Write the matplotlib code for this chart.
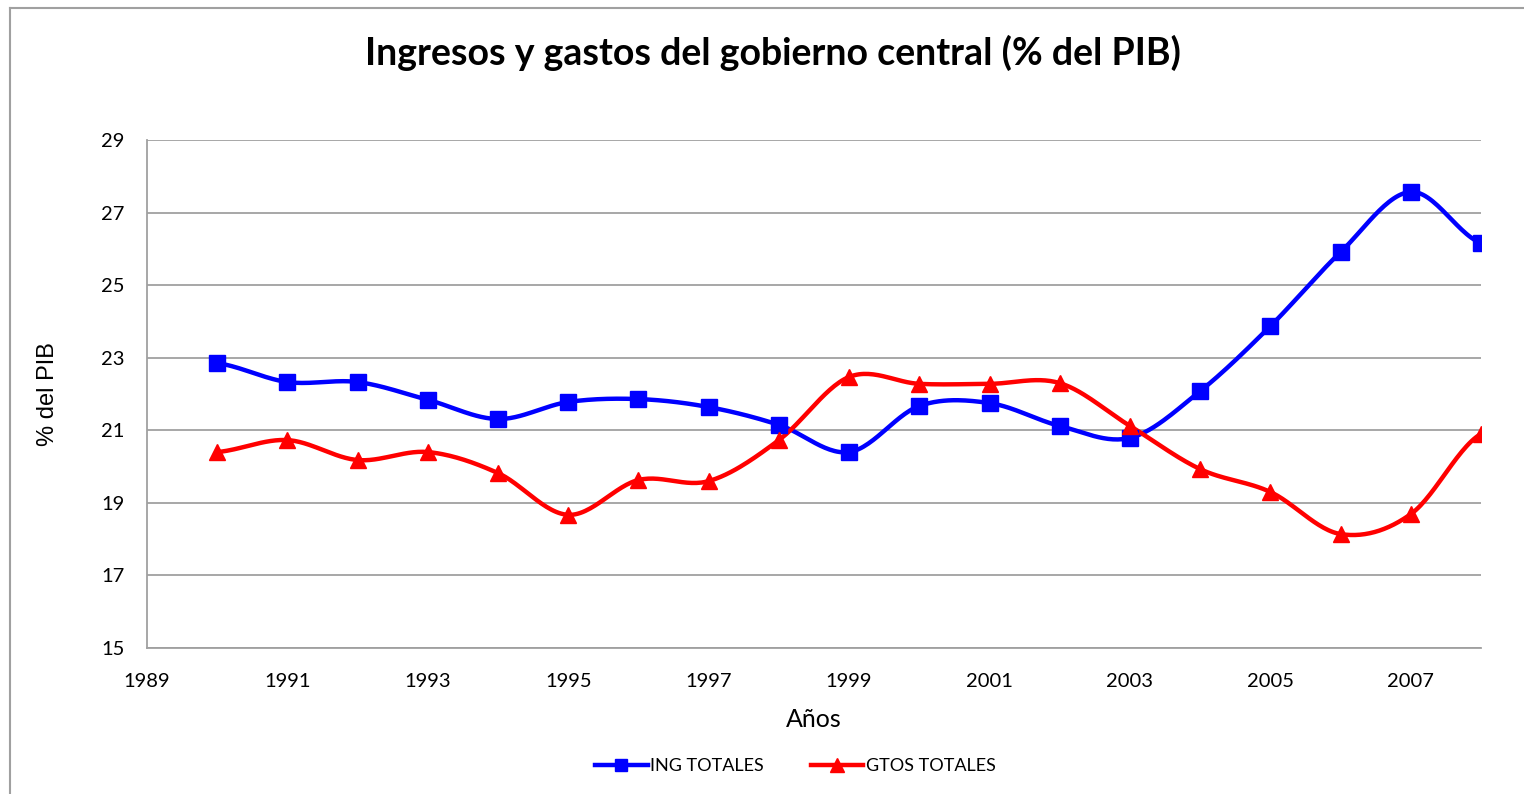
import numpy as np
import matplotlib
matplotlib.use('Agg')
import matplotlib.pyplot as plt
from matplotlib.lines import Line2D

plt.rcParams['font.family'] = ['Lato', 'DejaVu Sans']

# datos (% del PIB)
years = [1990, 1991, 1992, 1993, 1994, 1995, 1996, 1997, 1998, 1999,
         2000, 2001, 2002, 2003, 2004, 2005, 2006, 2007, 2008]
ing_totales = [22.85, 22.33, 22.33, 21.84, 21.31, 21.78, 21.86, 21.64, 21.15, 20.40,
               21.67, 21.75, 21.12, 20.79, 22.08, 23.87, 25.91, 27.57, 26.16]
gtos_totales = [20.40, 20.73, 20.18, 20.40, 19.82, 18.67, 19.63, 19.60, 20.73, 22.47,
                22.28, 22.28, 22.30, 21.12, 19.93, 19.30, 18.14, 18.69, 20.90]

x_ticks = list(range(1989, 2008, 2))
y_ticks = list(range(15, 30, 2))


def smooth(x, y, n=30):
    # curva tipo Catmull-Rom (similar al suavizado de Excel)
    x = np.asarray(x, float)
    y = np.asarray(y, float)
    px = np.concatenate([[2 * x[0] - x[1]], x, [2 * x[-1] - x[-2]]])
    py = np.concatenate([[y[0]], y, [y[-1]]])
    xs, ys = [], []
    t = np.linspace(0, 1, n)
    for i in range(1, len(px) - 2):
        p0, p1, p2, p3 = (np.array([px[j], py[j]]) for j in range(i - 1, i + 3))
        c1 = p1 + (p2 - p0) / 6
        c2 = p2 - (p3 - p1) / 6
        b = ((1 - t) ** 3)[:, None] * p1 + (3 * (1 - t) ** 2 * t)[:, None] * c1 \
            + (3 * (1 - t) * t ** 2)[:, None] * c2 + (t ** 3)[:, None] * p2
        xs.extend(b[:, 0])
        ys.extend(b[:, 1])
    return np.array(xs), np.array(ys)


fig = plt.figure(figsize=(15.24, 7.94), dpi=100)
ax = fig.add_axes([147 / 1524, 1 - 648 / 794, (1481 - 147) / 1524, (648 - 140) / 794])

sx, sy = smooth(years, ing_totales)
ax.plot(sx, sy, color='#0000FF', lw=3.2, solid_capstyle='round', zorder=3)
ax.plot(years, ing_totales, ls='none', marker='s', ms=11, color='#0000FF', zorder=4)

sx, sy = smooth(years, gtos_totales)
ax.plot(sx, sy, color='#FF0000', lw=3.2, solid_capstyle='round', zorder=3)
ax.plot(years, gtos_totales, ls='none', marker='^', ms=12, color='#FF0000', zorder=4)

ax.set_xlim(1989, 2008)
ax.set_ylim(15, 29)
ax.set_xticks(x_ticks)
ax.set_yticks(y_ticks)
ax.tick_params(length=0, labelsize=14.5, colors='black')
ax.tick_params(axis='x', pad=18)
ax.tick_params(axis='y', pad=16)
ax.grid(axis='y', color='#A0A0A0', lw=1.3)
ax.set_axisbelow(True)
for s in ['top', 'right']:
    ax.spines[s].set_visible(False)
for s in ['left', 'bottom']:
    ax.spines[s].set_color('#A0A0A0')
    ax.spines[s].set_linewidth(1.3)

ax.set_xlabel('Años', fontsize=18)
ax.xaxis.set_label_coords(0.5, -0.118)
ax.set_ylabel('% del PIB', fontsize=17, family=['Liberation Sans', 'DejaVu Sans'])
ax.yaxis.set_label_coords(-0.066, 0.5)

fig.text(0.507, 0.934, 'Ingresos y gastos del gobierno central (% del PIB)',
         ha='center', va='center', fontsize=27, fontweight='bold')

handles = [Line2D([], [], color='#0000FF', lw=3.2, marker='s', ms=9),
           Line2D([], [], color='#FF0000', lw=3.2, marker='^', ms=10)]
fig.legend(handles, ['ING TOTALES', 'GTOS TOTALES'], loc='center',
           bbox_to_anchor=(0.522, 0.035), ncol=2, frameon=False, fontsize=13,
           handlelength=2.9, handletextpad=0.15, columnspacing=2.6)

# borde del área del gráfico
fig.add_artist(Line2D([10 / 1524, 10 / 1524], [0, 1 - 8 / 794], color='#A0A0A0', lw=1.5))
fig.add_artist(Line2D([10 / 1524, 1], [1 - 8 / 794, 1 - 8 / 794], color='#A0A0A0', lw=1.5))

fig.savefig('out.png', dpi=100)
